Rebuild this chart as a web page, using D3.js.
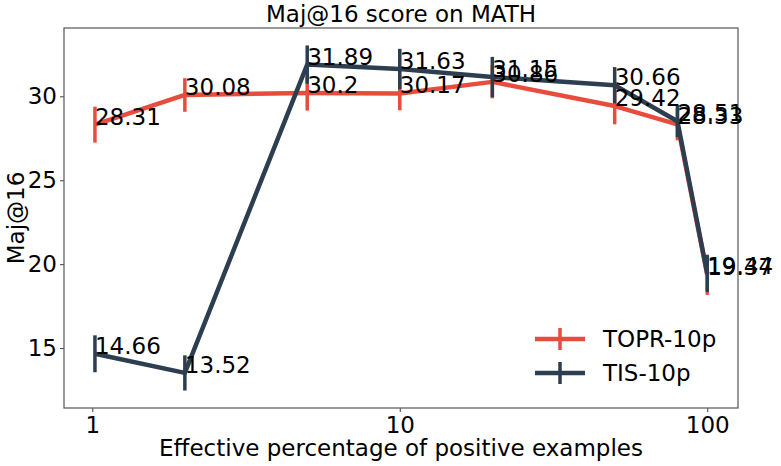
<!DOCTYPE html>
<html>
<head>
<meta charset="utf-8">
<script src="https://cdn.jsdelivr.net/npm/d3@7"></script>
<style>
  body { margin: 0; background: #fff; }
  svg { display: block; font-family: "DejaVu Sans", sans-serif; }
</style>
</head>
<body>
<svg id="chart" width="781" height="466"></svg>
<script>
// data
const xValues = [1.02, 2, 5, 10, 20, 50, 80, 100]
const toprScores = [28.31, 30.08, 30.2, 30.17, 30.86, 29.42, 28.33, 19.37]
const toprErr = [1.07, 1.0, 1.05, 1.0, 0.98, 1.09, 0.95, 1.2]
const tisScores = [14.66, 13.52, 31.89, 31.63, 31.15, 30.66, 28.51, 19.44]
const tisErr = [1.1, 1.05, 1.14, 1.2, 1.2, 1.08, 0.95, 1.1]
const xTicks = [1, 10, 100]
const yTicks = [15, 20, 25, 30]
const seriesNames = ["TOPR-10p", "TIS-10p"]
const seriesColors = ["#e74c3c", "#2c3e50"]

const svg = d3.select("#chart")
const m = {left: 64, right: 43, top: 28, bottom: 58}
const W = 781, H = 466
const fs = 23

let x = d3.scaleLog()
  .domain([0.809, 125.9])
  .range([m.left, W - m.right])
let y = d3.scaleLinear()
  .domain([11.43, 34.07])
  .range([H - m.bottom, m.top])

// axes
let xaxis = svg.append("g")
  .attr("transform", "translate(0," + (H - m.bottom) + ")")
  .call(d3.axisBottom(x).tickValues(xTicks).tickFormat(d3.format("d")).tickSize(4).tickSizeOuter(0))
let yaxis = svg.append("g")
  .attr("transform", "translate(" + m.left + ",0)")
  .call(d3.axisLeft(y).tickValues(yTicks).tickSize(4).tickSizeOuter(0))

for (let g of [xaxis, yaxis]) {
  g.select(".domain").remove()
  g.selectAll(".tick line").attr("stroke", "#444")
  g.selectAll(".tick text").attr("font-size", fs).attr("fill", "#000")
    .attr("font-family", "DejaVu Sans")
}
xaxis.selectAll(".tick text").attr("dy", "0.71em").attr("y", 9)
yaxis.selectAll(".tick text").attr("x", -7)

svg.append("rect")
  .attr("x", m.left).attr("y", m.top)
  .attr("width", W - m.left - m.right).attr("height", H - m.top - m.bottom)
  .attr("fill", "none").attr("stroke", "#555").attr("stroke-width", 1.2)

// series
const series = [
  {name: seriesNames[0], color: seriesColors[0], vals: toprScores, err: toprErr},
  {name: seriesNames[1], color: seriesColors[1], vals: tisScores, err: tisErr}
]

let line = d3.line().x(d => x(d[0])).y(d => y(d[1]))

series.forEach(s => {
  let pts = xValues.map((xv, i) => [xv, s.vals[i], s.err[i]])
  let g = svg.append("g")
  g.selectAll("line.err")
    .data(pts)
    .enter()
    .append("line")
      .attr("class", "err")
      .attr("x1", d => x(d[0])).attr("x2", d => x(d[0]))
      .attr("y1", d => y(d[1] - d[2])).attr("y2", d => y(d[1] + d[2]))
      .attr("stroke", s.color).attr("stroke-width", 3.5)
  g.append("path")
    .attr("d", line(pts))
    .attr("fill", "none")
    .attr("stroke", s.color)
    .attr("stroke-width", 4.5)
    .attr("stroke-linejoin", "round")
})

// value labels
series.forEach(s => {
  svg.append("g").selectAll("text")
    .data(xValues.map((xv, i) => [xv, s.vals[i]]))
    .enter()
    .append("text")
      .attr("x", d => x(d[0]))
      .attr("y", d => y(d[1]))
      .attr("font-size", fs)
      .text(d => d[1])
})

// title and axis labels
svg.append("text")
  .attr("x", (m.left + W - m.right) / 2).attr("y", 22)
  .attr("text-anchor", "middle").attr("font-size", fs)
  .text("Maj@16 score on MATH")
svg.append("text")
  .attr("x", (m.left + W - m.right) / 2).attr("y", 456)
  .attr("text-anchor", "middle").attr("font-size", fs)
  .text("Effective percentage of positive examples")
svg.append("text")
  .attr("transform", "translate(16," + ((m.top + H - m.bottom) / 2) + ") rotate(-90)")
  .attr("text-anchor", "middle").attr("dy", "0.35em").attr("font-size", fs)
  .text("Maj@16")

// legend
let legend = svg.append("g")
  .selectAll("g")
  .data(series)
  .enter()
  .append("g")
    .attr("transform", (d, i) => "translate(535," + (339 + i * 34) + ")")
legend.append("line")
  .attr("x1", 0).attr("x2", 50)
  .attr("stroke", d => d.color).attr("stroke-width", 4.5)
legend.append("line")
  .attr("x1", 25).attr("x2", 25).attr("y1", -11).attr("y2", 11)
  .attr("stroke", d => d.color).attr("stroke-width", 3.5)
legend.append("text")
  .attr("x", 68).attr("dy", "0.35em").attr("font-size", fs)
  .text(d => d.name)
</script>
</body>
</html>
